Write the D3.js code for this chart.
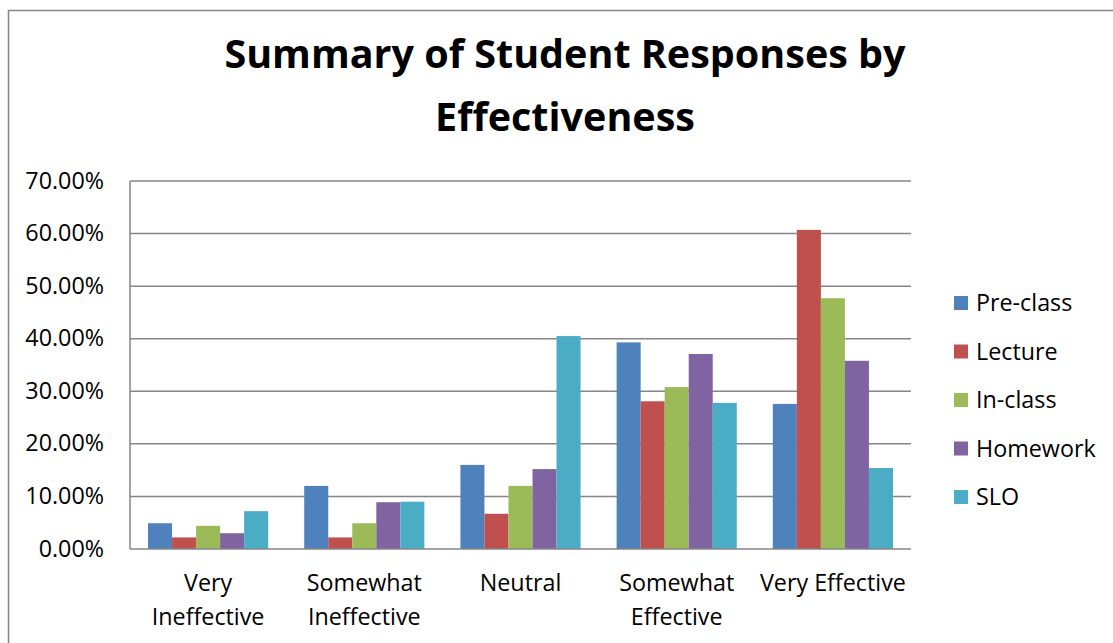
<!DOCTYPE html>
<html>
<head>
<meta charset="utf-8">
<script src="https://cdn.jsdelivr.net/npm/d3@7"></script>
<style>
  html, body { margin: 0; padding: 0; background: #fff; }
  svg { display: block; }
  text { font-family: "Open Sans", Lato, sans-serif; fill: #000; }
</style>
</head>
<body>
<svg id="chart" width="1113" height="643"></svg>
<script>
// ---- data ----
const titleLines = ["Summary of Student Responses by", "Effectiveness"];
const categories = ["Very Ineffective", "Somewhat Ineffective", "Neutral", "Somewhat Effective", "Very Effective"];
const categoryLines = [["Very", "Ineffective"], ["Somewhat", "Ineffective"], ["Neutral"], ["Somewhat", "Effective"], ["Very Effective"]];
const seriesNames = ["Pre-class", "Lecture", "In-class", "Homework", "SLO"];
const preClass = [0.049, 0.120, 0.160, 0.393, 0.276];
const lecture  = [0.022, 0.022, 0.067, 0.281, 0.607];
const inClass  = [0.044, 0.049, 0.120, 0.308, 0.477];
const homework = [0.030, 0.089, 0.152, 0.371, 0.358];
const slo      = [0.072, 0.090, 0.405, 0.278, 0.154];
const yTicks = [0, 0.1, 0.2, 0.3, 0.4, 0.5, 0.6, 0.7];
const colors = ["#4F81BD", "#C0504D", "#9BBB59", "#8064A2", "#4BACC6"];

const seriesValues = [preClass, lecture, inClass, homework, slo];

// ---- layout ----
const svg = d3.select("#chart");
const plot = { left: 130, right: 911, top: 181, bottom: 549 };
const gray = "#868686";
const labelSize = "23.3px";

// outer chart border
svg.append("rect")
  .attr("x", 8.5).attr("y", 10.5)
  .attr("width", 1200).attr("height", 800)
  .attr("fill", "none").attr("stroke", gray).attr("stroke-width", 1.5);

// title
const title = svg.append("text")
  .attr("text-anchor", "middle")
  .style("font-weight", "bold")
  .style("font-size", "39.5px");
titleLines.forEach((t, i) => {
  title.append("tspan").attr("x", 565).attr("y", 68 + i * 63).text(t);
});

// scales
const x0 = d3.scaleBand()
  .domain(categories)
  .range([plot.left, plot.right])
  .paddingInner(1.5 / 6.5)
  .paddingOuter(0.75 / 6.5);
const x1 = d3.scaleBand()
  .domain(seriesNames)
  .range([0, x0.bandwidth()])
  .padding(0);
const y = d3.scaleLinear().domain([0, 0.7]).range([plot.bottom, plot.top]);

// gridlines
svg.append("g")
  .selectAll("line")
  .data(yTicks.filter(d => d > 0))
  .join("line")
  .attr("x1", plot.left).attr("x2", plot.right)
  .attr("y1", d => y(d)).attr("y2", d => y(d))
  .attr("stroke", gray).attr("stroke-width", 1.5);

// y axis labels
const fmt = d => (d * 100).toFixed(2) + "%";
const yAxis = svg.append("g")
  .attr("transform", `translate(${plot.left},0)`)
  .call(d3.axisLeft(y).tickValues(yTicks).tickFormat(fmt).tickSize(0).tickPadding(26));
yAxis.select(".domain").remove();
yAxis.selectAll("text")
  .style("font-size", labelSize)
  .attr("dy", "0.3em")
  .attr("fill", "#000");

// bars
const rows = categories.map((c, ci) => ({
  cat: c,
  vals: seriesNames.map((s, si) => ({ s, si, v: seriesValues[si][ci] }))
}));
svg.append("g")
  .selectAll("g")
  .data(rows)
  .join("g")
  .attr("transform", d => `translate(${x0(d.cat)},0)`)
  .selectAll("rect")
  .data(d => d.vals)
  .join("rect")
  .attr("x", d => x1(d.s))
  .attr("width", x1.bandwidth())
  .attr("y", d => y(d.v))
  .attr("height", d => y(0) - y(d.v))
  .attr("fill", d => colors[d.si]);

// axes lines
svg.append("line")
  .attr("x1", plot.left).attr("x2", plot.left)
  .attr("y1", plot.top).attr("y2", plot.bottom)
  .attr("stroke", gray).attr("stroke-width", 1.5);
svg.append("line")
  .attr("x1", plot.left).attr("x2", plot.right)
  .attr("y1", plot.bottom).attr("y2", plot.bottom)
  .attr("stroke", gray).attr("stroke-width", 1.5);

// x axis labels
const xAxis = svg.append("g")
  .attr("transform", `translate(0,${plot.bottom})`)
  .call(d3.axisBottom(x0).tickSize(0).tickFormat(""));
xAxis.select(".domain").remove();
xAxis.selectAll(".tick").each(function(d, i) {
  const t = d3.select(this).append("text")
    .attr("text-anchor", "middle")
    .style("font-size", labelSize)
    .attr("fill", "#000");
  categoryLines[i].forEach((ln, li) => {
    t.append("tspan").attr("x", 0).attr("y", 42 + li * 34).text(ln);
  });
});

// legend
const legend = svg.append("g");
seriesNames.forEach((s, i) => {
  const cy = 303 + i * 48.5;
  legend.append("rect")
    .attr("x", 954).attr("y", cy - 7)
    .attr("width", 14).attr("height", 14)
    .attr("fill", colors[i]);
  legend.append("text")
    .attr("x", 976).attr("y", cy + 8)
    .style("font-size", labelSize)
    .text(s);
});
</script>
</body>
</html>
